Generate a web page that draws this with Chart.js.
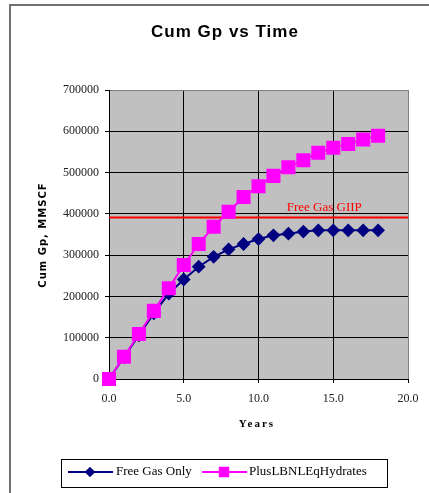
<!DOCTYPE html>
<html>
<head>
<meta charset="utf-8">
<title>Cum Gp vs Time</title>
<script src="https://cdn.jsdelivr.net/npm/chart.js@4.4.0/dist/chart.umd.min.js"></script>
<style>
    html, body { margin: 0; padding: 0; background: #fff; }
    #chart { display: block; }
</style>
</head>
<body>
<canvas id="chart" width="429" height="493"></canvas>
<script>
// Data
const years = [0, 1, 2, 3, 4, 5, 6, 7, 8, 9, 10, 11, 12, 13, 14, 15, 16, 17, 18];
const freeGasOnly = [0, 53000, 106000, 159000, 207000, 241000, 272000, 296000, 314000, 327000,
    339000, 348000, 352000, 357000, 360000, 360000, 360000, 360000, 360000];
const plusHydrates = [0, 54000, 109000, 165000, 220000, 276000, 327000, 369000, 405000, 441000,
    467000, 492000, 513000, 530000, 548000, 560000, 569000, 580000, 589000];
const giipValue = 391000;
const giipLabel = 'Free Gas GIIP';
const seriesNames = ['Free Gas Only', 'PlusLBNLEqHydrates'];
const xTicks = [0, 5, 10, 15, 20];
const yTicks = [0, 100000, 200000, 300000, 400000, 500000, 600000, 700000];

const canvas = document.getElementById('chart');
const ctx = canvas.getContext('2d');

const serif = '"Liberation Serif", "Times New Roman", serif';

function toPoints(xs, ys) {
    return xs.map((x, i) => ({ x: x, y: ys[i] }));
}

// Plot background, outer frame, titles, GIIP label and legend
const decorations = {
    id: 'decorations',
    beforeDraw(chart) {
        const c = chart.ctx;
        const a = chart.chartArea;
        c.save();
        c.fillStyle = '#c0c0c0';
        c.fillRect(a.left, a.top, a.right - a.left, a.bottom - a.top);
        c.restore();
    },
    afterDraw(chart) {
        const c = chart.ctx;
        const xs = chart.scales.x;
        const ys = chart.scales.y;
        c.save();

        // outer frame (only top and left edges are visible)
        c.strokeStyle = '#707070';
        c.lineWidth = 2;
        c.beginPath();
        c.moveTo(10, 493);
        c.lineTo(10, 5);
        c.lineTo(429, 5);
        c.stroke();

        // chart title
        c.fillStyle = '#000';
        c.textAlign = 'center';
        c.textBaseline = 'middle';
        c.font = 'bold 17px "Liberation Sans", Arial, sans-serif';
        c.letterSpacing = '1px';
        c.fillText('Cum Gp vs Time', 225, 32);

        // x axis title
        c.font = 'bold 11px ' + serif;
        c.letterSpacing = '2px';
        c.fillText('Years', 257, 424);

        // y axis title
        c.save();
        c.translate(43, 235);
        c.rotate(-Math.PI / 2);
        c.font = 'bold 10px "DejaVu Sans", sans-serif';
        c.letterSpacing = '1px';
        c.fillText('Cum Gp, MMSCF', 0, 0);
        c.restore();

        // GIIP label
        c.letterSpacing = '0px';
        c.fillStyle = '#ff0000';
        c.font = '13px ' + serif;
        c.fillText(giipLabel, xs.getPixelForValue(14.4), ys.getPixelForValue(giipValue) - 10);

        // legend
        c.strokeStyle = '#000';
        c.lineWidth = 1;
        c.strokeRect(61.5, 459.5, 326, 28);
        const ly = 472;
        const items = [
            { ds: chart.data.datasets[0], x0: 68, text: 116 },
            { ds: chart.data.datasets[1], x0: 202, text: 249 }
        ];
        items.forEach(item => {
            const ds = item.ds;
            c.strokeStyle = ds.borderColor;
            c.lineWidth = 2;
            c.beginPath();
            c.moveTo(item.x0, ly);
            c.lineTo(item.x0 + 45, ly);
            c.stroke();
            Chart.helpers.drawPoint(c, {
                pointStyle: ds.pointStyle,
                radius: ds.pointRadius * 0.7,
                rotation: 0,
                borderWidth: 1
            }, item.x0 + 22, ly);
            c.fillStyle = ds.pointBackgroundColor;
            c.strokeStyle = ds.pointBorderColor;
            c.fill();
            c.fillStyle = '#000';
            c.textAlign = 'left';
            c.font = '13px ' + serif;
            c.fillText(ds.label, item.text, ly);
        });
        c.restore();
    }
};

const chart = new Chart(ctx, {
    type: 'scatter',
    data: {
        datasets: [{
            label: seriesNames[0],
            data: toPoints(years, freeGasOnly),
            showLine: true,
            clip: false,
            borderColor: '#000080',
            borderWidth: 2,
            pointStyle: 'rectRot',
            pointRadius: 5.5,
            pointBackgroundColor: '#000080',
            pointBorderColor: '#000080',
            order: 2
        }, {
            label: seriesNames[1],
            data: toPoints(years, plusHydrates),
            showLine: true,
            clip: false,
            borderColor: '#ff00ff',
            borderWidth: 2,
            pointStyle: 'rect',
            pointRadius: 8.5,
            pointBackgroundColor: '#ff00ff',
            pointBorderColor: '#ff00ff',
            order: 1
        }, {
            label: giipLabel,
            data: [{ x: xTicks[0], y: giipValue }, { x: xTicks[xTicks.length - 1], y: giipValue }],
            showLine: true,
            borderColor: '#ff0000',
            borderWidth: 2,
            pointRadius: 0,
            order: 3
        }]
    },
    options: {
        responsive: false,
        animation: false,
        events: [],
        layout: { padding: { left: 0, right: 21, top: 90, bottom: 0 } },
        plugins: {
            legend: { display: false },
            title: { display: false },
            tooltip: { enabled: false }
        },
        scales: {
            x: {
                type: 'linear',
                min: xTicks[0],
                max: xTicks[xTicks.length - 1],
                afterFit: s => { s.height = 114; },
                afterBuildTicks: s => { s.ticks = xTicks.map(v => ({ value: v })); },
                grid: {
                    color: c => (c.tick && c.tick.value === xTicks[xTicks.length - 1]) ? '#808080' : '#000',
                    lineWidth: 1,
                    tickLength: 4,
                    tickColor: '#000'
                },
                border: { color: '#000', width: 1 },
                ticks: {
                    padding: 9,
                    color: '#202020',
                    font: { family: serif, size: 12 },
                    maxRotation: 0,
                    callback: v => Number(v).toFixed(1)
                }
            },
            y: {
                min: yTicks[0],
                max: yTicks[yTicks.length - 1],
                afterFit: s => { s.width = 109; },
                afterBuildTicks: s => { s.ticks = yTicks.map(v => ({ value: v })); },
                grid: {
                    color: c => (c.tick && c.tick.value === yTicks[yTicks.length - 1]) ? '#808080' : '#000',
                    lineWidth: 1,
                    tickLength: 4,
                    tickColor: '#000'
                },
                border: { color: '#000', width: 1 },
                ticks: {
                    padding: 6,
                    color: '#202020',
                    font: { family: serif, size: 12 },
                    callback: v => String(v)
                }
            }
        }
    },
    plugins: [decorations]
});
</script>
</body>
</html>
